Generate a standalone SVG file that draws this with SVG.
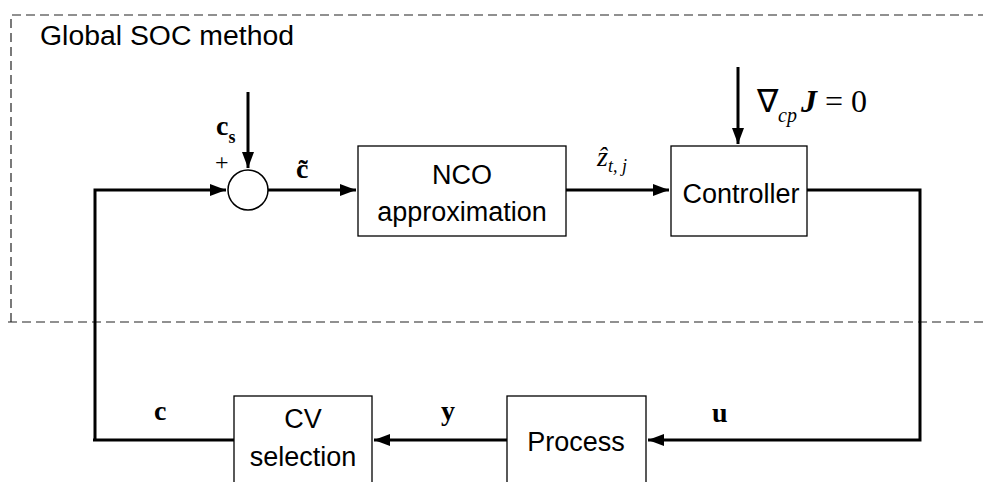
<svg xmlns="http://www.w3.org/2000/svg" width="983" height="482" viewBox="0 0 983 482">
<style>
.box{fill:#fff;stroke:#000;stroke-width:1.3}
.ln{fill:none;stroke:#000;stroke-width:3}
.t{font-family:"Liberation Sans",Arial,sans-serif;font-size:27px;fill:#000}
.m{font-family:"Liberation Serif","Times New Roman",serif;fill:#000}
.dash{fill:none;stroke:#222;stroke-width:1.2;stroke-dasharray:9 5}
</style>
<defs>
<marker id="ah" markerWidth="16" markerHeight="12" refX="16" refY="6" orient="auto" markerUnits="userSpaceOnUse">
<path d="M0,0 L16,6 L0,12 Z" fill="#000"/>
</marker>
</defs>
<rect width="983" height="482" fill="#fff"/>
<g id="soc-boundary">
<path class="dash" d="M11,322 V15 H990"/>
<path class="dash" d="M8,322 H983"/>
<text class="t" x="40" y="45" textLength="254" lengthAdjust="spacingAndGlyphs">Global SOC method</text>
</g>
<g id="connectors">
<path class="ln" d="M248,92 V168" marker-end="url(#ah)"/>
<path class="ln" d="M95,440 V190 H226" marker-end="url(#ah)"/>
<path class="ln" d="M268,190 H356" marker-end="url(#ah)"/>
<path class="ln" d="M566,190 H669" marker-end="url(#ah)"/>
<path class="ln" d="M738,67 V144" marker-end="url(#ah)"/>
<path class="ln" d="M807,190 H920 V440 H648" marker-end="url(#ah)"/>
<path class="ln" d="M507,440 H374" marker-end="url(#ah)"/>
<path class="ln" d="M234,440 H93"/>
</g>
<g id="sum">
<circle cx="248" cy="190" r="20" fill="#fff" stroke="#000" stroke-width="1.5"/>
<text class="m" x="216" y="135" font-size="28" font-weight="bold">c<tspan font-size="18" dy="8">s</tspan></text>
<text class="m" x="215" y="170" font-size="24">+</text>
</g>
<text class="m" x="296" y="178" font-size="28" font-weight="bold">c&#x303;</text>
<g id="zlabel">
<text class="m" x="597" y="166" font-size="28" font-style="italic">z&#x302;<tspan font-size="18" dy="6">t</tspan><tspan font-size="18">, j</tspan></text>
</g>
<g id="nco">
<rect class="box" x="358" y="146" width="208" height="90"/>
<text class="t" x="462" y="184" text-anchor="middle">NCO</text>
<text class="t" x="462" y="221" text-anchor="middle">approximation</text>
</g>
<g id="controller">
<rect class="box" x="671" y="146" width="136" height="90"/>
<text class="t" x="741" y="203" text-anchor="middle">Controller</text>
</g>
<g id="gradlabel">
<text class="m" x="757" y="112" font-size="32">∇<tspan font-size="20" font-style="italic" dy="10">cp</tspan><tspan font-style="italic" font-weight="bold" dy="-10" dx="4">J</tspan> = 0</text>
</g>
<g id="process">
<rect class="box" x="507" y="396" width="139" height="100"/>
<text class="t" x="576" y="451" text-anchor="middle">Process</text>
</g>
<g id="cv">
<rect class="box" x="234" y="396" width="138" height="100"/>
<text class="t" x="303" y="428" text-anchor="middle">CV</text>
<text class="t" x="303" y="466" text-anchor="middle">selection</text>
</g>
<text class="m" x="712" y="422" font-size="28" font-weight="bold">u</text>
<text class="m" x="441" y="420" font-size="28" font-weight="bold">y</text>
<text class="m" x="154" y="420" font-size="28" font-weight="bold">c</text>
</svg>
